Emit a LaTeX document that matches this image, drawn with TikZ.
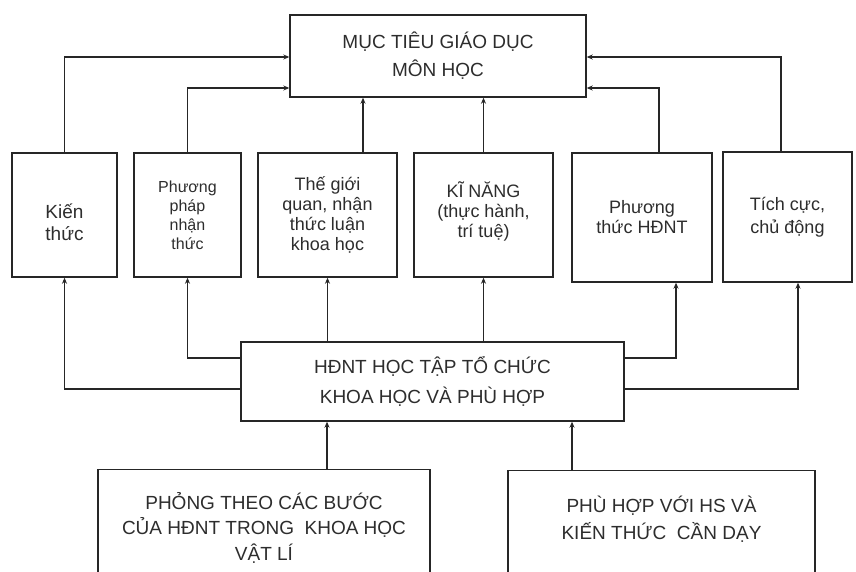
\documentclass[tikz,border=0pt]{standalone}
\usepackage{fontspec}
\setmainfont{Liberation Sans}
\usetikzlibrary{arrows.meta}
\definecolor{linec}{RGB}{38,38,38}
\definecolor{textc}{RGB}{45,45,45}
\begin{document}
\begin{tikzpicture}[x=1pt,y=-1pt,
  box/.style={draw=linec, line width=1.4pt, align=center, inner sep=0pt, text=textc},
  txt/.style={align=center, inner sep=0pt, text=textc},
  arr/.style={draw=linec, line width=1.4pt, -{Stealth[length=6pt,width=5pt]}},
  big/.style={font=\fontsize{19}{28}\selectfont},
  mid/.style={font=\fontsize{18}{20}\selectfont}
]
\useasboundingbox (0,0) rectangle (856,571);
\fill[white] (0,0) rectangle (856,571);
\clip (0,0) rectangle (856,571);

% top box
\node[box, big, minimum width=296pt, minimum height=82pt] (T) at (438,56)
  {MỤC TIÊU GIÁO DỤC\\MÔN HỌC};

% middle boxes
\node[box, font=\fontsize{19}{22}\selectfont, minimum width=105pt, minimum height=124pt] (B1) at (64.5,215)
  {\rule{0pt}{30pt}Kiến\\thức};
\node[box, font=\fontsize{16}{19}\selectfont, minimum width=107pt, minimum height=124pt] (B2) at (187.5,215)
  {Phương\\pháp\\nhận\\thức};
\node[box, mid, minimum width=139pt, minimum height=124pt] (B3) at (327.5,215)
  {Thế giới\\quan, nhận\\thức luận\\khoa học};
\node[box, mid, minimum width=139pt, minimum height=124pt] (B4) at (483.5,215)
  {KĨ NĂNG\\(thực hành,\\trí tuệ)\rule[-10pt]{0pt}{1pt}};
\node[box, mid, minimum width=140pt, minimum height=129pt] (B5) at (642,217.5)
  {Phương\\thức HĐNT};
\node[box, font=\fontsize{18}{23}\selectfont, minimum width=129pt, minimum height=130pt] (B6) at (787.5,217)
  {Tích cực,\\chủ động};

% central box
\node[box, big, font=\fontsize{19}{30}\selectfont, minimum width=383pt, minimum height=79pt] (H) at (432.5,381.5)
  {HĐNT HỌC TẬP TỔ CHỨC\\KHOA HỌC VÀ PHÙ HỢP};

% bottom boxes
\node[box, minimum width=332pt, minimum height=140pt, anchor=north] (L) at (264,469) {};
\node[txt, font=\fontsize{19}{25.5}\selectfont] (Lt) at (264,527.5)
  {PHỎNG THEO CÁC BƯỚC\\CỦA HĐNT TRONG~ KHOA HỌC\\VẬT LÍ};
\node[box, minimum width=307pt, minimum height=140pt, anchor=north] (R) at (661.5,470) {};
\node[txt, font=\fontsize{19}{27}\selectfont] (Rt) at (661.5,519)
  {PHÙ HỢP VỚI HS VÀ\\KIẾN THỨC~ CẦN DẠY};

% helper coordinates
\coordinate (y57) at (0,57);
\coordinate (y88) at (0,88);
\coordinate (y358) at (0,358);
\coordinate (y389) at (0,389);
\coordinate (x363) at (363,0);
\coordinate (x659) at (659,0);
\coordinate (x781) at (781,0);
\coordinate (x676) at (676,0);
\coordinate (x798) at (798,0);
\coordinate (x327) at (327,0);
\coordinate (x572) at (572,0);

% to top box
\draw[arr] (B1.north) |- (T.west |- y57);
\draw[arr] (B2.north) |- (T.west |- y88);
\draw[arr] (B3.north -| x363) -- (T.south -| x363);
\draw[arr] (B4.north) -- (T.south -| B4.north);
\draw[arr] (B5.north -| x659) |- (T.east |- y88);
\draw[arr] (B6.north -| x781) |- (T.east |- y57);

% from central box
\draw[arr] (H.west |- y389) -| (B1.south);
\draw[arr] (H.west |- y358) -| (B2.south);
\draw[arr] (H.north -| B3.south) -- (B3.south);
\draw[arr] (H.north -| B4.south) -- (B4.south);
\draw[arr] (H.east |- y358) -| (B5.south -| x676);
\draw[arr] (H.east |- y389) -| (B6.south -| x798);

% from bottom boxes
\draw[arr] (L.north -| x327) -- (H.south -| x327);
\draw[arr] (R.north -| x572) -- (H.south -| x572);
\end{tikzpicture}
\end{document}
